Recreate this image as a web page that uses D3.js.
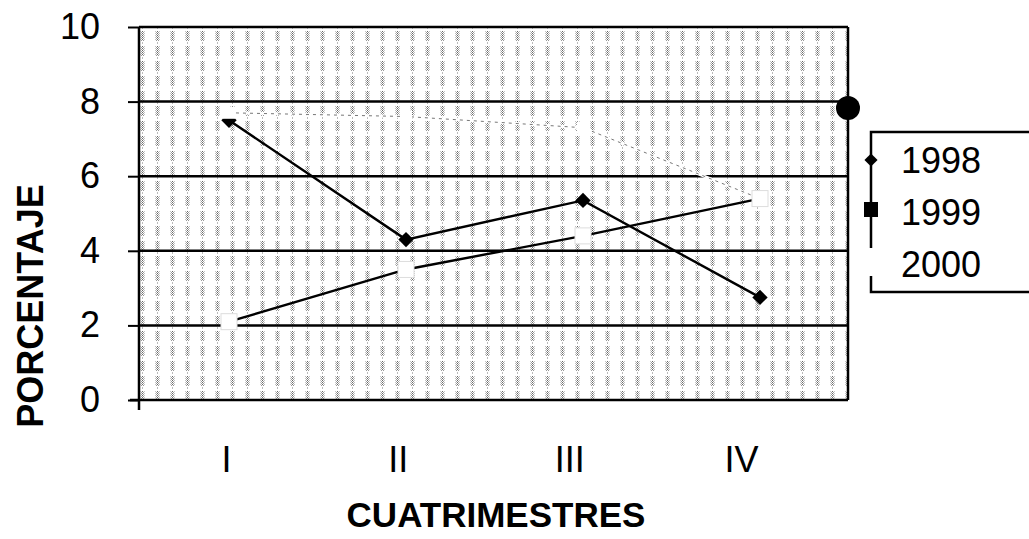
<!DOCTYPE html>
<html>
<head>
<meta charset="utf-8">
<script src="https://cdn.jsdelivr.net/npm/d3@7"></script>
<style>
  body { margin: 0; background: #fff; }
  text { font-family: "Liberation Sans", Arial, sans-serif; fill: #000; }
</style>
</head>
<body>
<div id="vis"></div>
<script>
'use strict';

//chart values
var cuatrimestres = ['I', 'II', 'III', 'IV'];
var years = ['1998', '1999', '2000'];
var v1998 = [7.5, 4.3, 5.35, 2.75];
var v1999 = [2.1, 3.5, 4.4, 5.4];
var v2000 = [7.7, 7.6, 7.3, 5.4];
var yTicks = [0, 2, 4, 6, 8, 10];

var W = 1029, H = 539;
var plot = { left: 139, right: 848, top: 27, bottom: 400 };

var svg = d3.select('#vis').append('svg')
    .attr('width', W)
    .attr('height', H);

var x = d3.scalePoint().domain(cuatrimestres).range([229, 760]);
//tick labels sit a bit left of the points in the scan
var xLabel = d3.scalePoint().domain(cuatrimestres).range([226, 741]);
var y = d3.scaleLinear().domain([0, 10]).range([plot.bottom, plot.top]);

//dotted grey texture of the plot area: vertical stripes of dot clusters
var defs = svg.append('defs');
var pat = defs.append('pattern')
    .attr('id', 'dots')
    .attr('patternUnits', 'userSpaceOnUse')
    .attr('width', 15)
    .attr('height', 15);
pat.append('rect').attr('width', 15).attr('height', 15).attr('fill', '#fff');
d3.range(1, 11).forEach(function (r) {
    d3.range(5, 10).forEach(function (c) {
        if ((r + c) % 2 === 0) {
            var edge = (c === 5 || c === 9);
            pat.append('rect')
                .attr('x', c).attr('y', r)
                .attr('width', 1).attr('height', 1)
                .attr('fill', edge ? '#c4c4c4' : (c === 7 ? '#666' : '#999'));
        }
    });
});
pat.append('rect').attr('x', 7).attr('y', 12).attr('width', 1).attr('height', 2).attr('fill', '#bbb');

svg.append('rect')
    .attr('x', plot.left)
    .attr('y', plot.top)
    .attr('width', plot.right - plot.left)
    .attr('height', plot.bottom - plot.top)
    .attr('fill', 'url(#dots)');

//horizontal gridlines
svg.selectAll('.grid')
    .data(yTicks.filter(function (t) { return t > 0; }))
    .enter().append('line')
    .attr('class', 'grid')
    .attr('x1', plot.left)
    .attr('x2', plot.right)
    .attr('y1', function (d) { return y(d); })
    .attr('y2', function (d) { return y(d); })
    .attr('stroke', '#000')
    .attr('stroke-width', 2.5);

//right border
svg.append('line')
    .attr('x1', plot.right).attr('x2', plot.right)
    .attr('y1', plot.top).attr('y2', plot.bottom)
    .attr('stroke', '#000').attr('stroke-width', 2.5);

//y axis
var yAxis = svg.append('g')
    .attr('transform', 'translate(' + plot.left + ',0)')
    .call(d3.axisLeft(y).tickValues(yTicks).tickSize(11).tickPadding(28));
yAxis.select('.domain').remove();
yAxis.selectAll('.tick line').attr('stroke', '#000').attr('stroke-width', 2);
yAxis.selectAll('.tick text')
    .style('font-size', '36px')
    .style('font-family', '"Liberation Sans", Arial, sans-serif')
    .attr('fill', '#000');
svg.append('line')
    .attr('x1', plot.left).attr('x2', plot.left)
    .attr('y1', plot.top).attr('y2', plot.bottom + 10)
    .attr('stroke', '#000').attr('stroke-width', 2.5);

//x axis line
svg.append('line')
    .attr('x1', plot.left - 9).attr('x2', plot.right)
    .attr('y1', plot.bottom).attr('y2', plot.bottom)
    .attr('stroke', '#000').attr('stroke-width', 2.5);

//x labels
var xAxis = svg.append('g')
    .attr('transform', 'translate(0,' + plot.bottom + ')')
    .call(d3.axisBottom(xLabel).tickSize(0).tickPadding(46));
xAxis.select('.domain').remove();
xAxis.selectAll('.tick text')
    .style('font-size', '36px')
    .style('font-family', '"Liberation Sans", Arial, sans-serif')
    .attr('fill', '#000');

//axis titles
svg.append('text')
    .text('CUATRIMESTRES')
    .attr('x', 496)
    .attr('y', 527)
    .attr('text-anchor', 'middle')
    .style('font-size', '35px')
    .style('font-weight', 'bold');
svg.append('text')
    .text('PORCENTAJE')
    .attr('transform', 'translate(43,306) rotate(-90)')
    .attr('text-anchor', 'middle')
    .style('font-size', '36px')
    .style('font-weight', 'bold');

var line = d3.line()
    .x(function (d, i) { return x(cuatrimestres[i]); })
    .y(function (d) { return y(d); });

//2000: light line, mostly lost in the texture
svg.append('path')
    .datum(v2000)
    .attr('d', line)
    .attr('fill', 'none')
    .attr('stroke', '#fff')
    .attr('stroke-width', 3);
svg.append('path')
    .datum(v2000)
    .attr('d', line)
    .attr('fill', 'none')
    .attr('stroke', '#777')
    .attr('stroke-width', 1)
    .attr('stroke-dasharray', '3,4');

//1999
svg.append('path')
    .datum(v1999)
    .attr('d', line)
    .attr('fill', 'none')
    .attr('stroke', '#000')
    .attr('stroke-width', 2.4);
svg.selectAll('.sq')
    .data(v1999)
    .enter().append('rect')
    .attr('class', 'sq')
    .attr('x', function (d, i) { return x(cuatrimestres[i]) - 8; })
    .attr('y', function (d) { return y(d) - 8; })
    .attr('width', 16)
    .attr('height', 16)
    .attr('fill', '#fff')
    .attr('stroke', '#ddd');

//1998
svg.append('path')
    .datum(v1998)
    .attr('d', line)
    .attr('fill', 'none')
    .attr('stroke', '#000')
    .attr('stroke-width', 2.4);
svg.selectAll('.dia')
    .data(v1998)
    .enter().append('path')
    .attr('class', 'dia')
    .attr('d', d3.symbol().type(d3.symbolDiamond2).size(150))
    .attr('transform', function (d, i) {
        return 'translate(' + x(cuatrimestres[i]) + ',' + y(d) + ')';
    })
    .attr('fill', '#000');

//2000 markers
svg.selectAll('.wm')
    .data(v2000)
    .enter().append('rect')
    .attr('x', function (d, i) { return x(cuatrimestres[i]) - 6; })
    .attr('y', function (d) { return y(d) - 6; })
    .attr('width', 12)
    .attr('height', 12)
    .attr('fill', '#fff');

//black dot on the right border
svg.append('circle')
    .attr('cx', plot.right)
    .attr('cy', 108)
    .attr('r', 12)
    .attr('fill', '#000');

//legend
var lg = svg.append('g').attr('transform', 'translate(871,132)');
lg.append('rect')
    .attr('x', 0).attr('y', 0)
    .attr('width', 220).attr('height', 160)
    .attr('fill', '#fff')
    .attr('stroke', '#000')
    .attr('stroke-width', 2.5);
lg.selectAll('.lt')
    .data(years)
    .enter().append('text')
    .attr('x', 30)
    .attr('y', function (d, i) { return 41 + i * 52; })
    .text(function (d) { return d; })
    .style('font-size', '36px');
lg.append('path')
    .attr('d', d3.symbol().type(d3.symbolDiamond2).size(110))
    .attr('transform', 'translate(0,28)')
    .attr('fill', '#000');
lg.append('rect')
    .attr('x', -7).attr('y', 70)
    .attr('width', 14).attr('height', 15)
    .attr('fill', '#000');
lg.append('rect')
    .attr('x', -4).attr('y', 116)
    .attr('width', 8).attr('height', 28)
    .attr('fill', '#fff');
</script>
</body>
</html>
